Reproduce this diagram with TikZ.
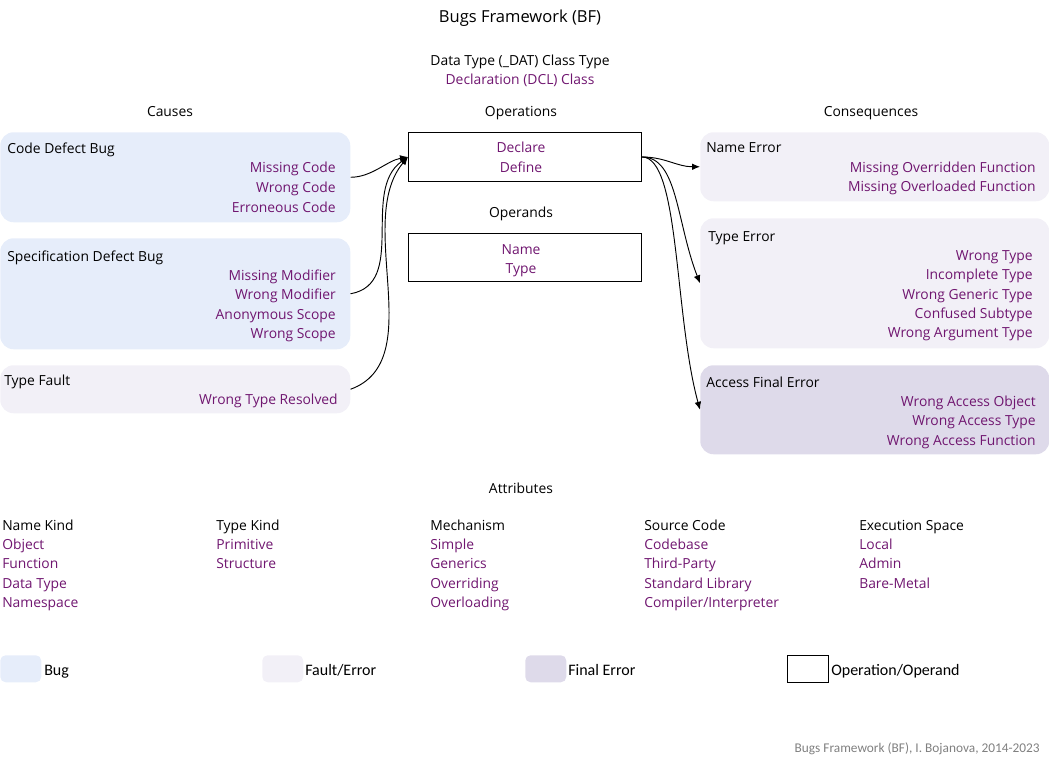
\documentclass[tikz,border=0pt]{standalone}
\usepackage{fontspec}
\setmainfont{Open Sans}
\newfontfamily\legfont{Carlito}
\usetikzlibrary{arrows.meta}
\definecolor{bugc}{HTML}{E6EDFA}
\definecolor{faultc}{HTML}{F2F0F7}
\definecolor{finalc}{HTML}{DEDAEA}
\definecolor{purp}{HTML}{701670}
\definecolor{footc}{HTML}{808080}
\begin{document}
\begin{tikzpicture}[x=0.75pt,y=-0.75pt, font=\fontsize{10.4}{12}\selectfont,
 t/.style={inner sep=0, text height=7.5pt, text depth=2.5pt, yshift=-2pt},
 it/.style={t, text=purp, anchor=east},
 pt/.style={t, text=purp},
 hd/.style={t, anchor=west},
 pw/.style={t, text=purp, anchor=west},
 box/.style={anchor=north west, inner sep=0, rounded corners=10pt},
 bugb/.style={box, fill=bugc},
 faultb/.style={box, fill=faultc},
 finalb/.style={box, fill=finalc},
 opb/.style={anchor=north west, inner sep=0, draw=black, line width=0.7pt},
 lgb/.style={anchor=north west, inner sep=0, rounded corners=4pt, minimum width=41*0.75pt, minimum height=27*0.75pt},
 lgt/.style={inner sep=0, anchor=west, text height=8pt, text depth=2.5pt, yshift=-1.5pt, font=\legfont\fontsize{12}{14}\selectfont},
 arr/.style={-{Latex[length=6pt,width=5pt]}, line width=0.7pt}
]
\useasboundingbox (0,0) rectangle (1049,763);

% titles
\node[t, font=\fontsize{12.4}{14}\selectfont] (title) at (520,17) {Bugs Framework (BF)};
\node[t] (dat) at (520,60) {Data Type (\_DAT) Class Type};
\node[pt] (dcl) at (520,79) {Declaration (DCL) Class};
\node[t] (causes) at (170,111) {Causes};
\node[t] (operations) at (521,111) {Operations};
\node[t] (conseq) at (871,111) {Consequences};

% causes
\node[bugb, minimum width=350*0.75pt, minimum height=90*0.75pt] (cdb) at (0,132) {};
\node[hd] (cdbT) at (7,148) {Code Defect Bug};
\node[it] (cdb1) at (336,167) {Missing Code};
\node[it] (cdb2) at (336,186) {Wrong Code};
\node[it] (cdb3) at (336,206) {Erroneous Code};

\node[bugb, minimum width=350*0.75pt, minimum height=111*0.75pt] (sdb) at (0,238) {};
\node[hd] (sdbT) at (7,255) {Specification Defect Bug};
\node[it] (sdb1) at (336,274) {Missing Modifier};
\node[it] (sdb2) at (336,293) {Wrong Modifier};
\node[it] (sdb3) at (336,313) {Anonymous Scope};
\node[it] (sdb4) at (336,332) {Wrong Scope};

\node[faultb, minimum width=350*0.75pt, minimum height=48*0.75pt] (tf) at (0,365) {};
\node[hd] (tfT) at (4,379) {Type Fault};
\node[it] (tf1) at (338,398) {Wrong Type Resolved};

% operations / operands
\node[opb, minimum width=233*0.75pt, minimum height=49*0.75pt] (ops) at (408,132) {};
\node[pt] (ops1) at (521,147) {Declare};
\node[pt] (ops2) at (521,166) {Define};
\node[t] (operands) at (521,211) {Operands};
\node[opb, minimum width=233*0.75pt, minimum height=48*0.75pt] (opd) at (408,233) {};
\node[pt] (opd1) at (521,248) {Name};
\node[pt] (opd2) at (521,267) {Type};

% consequences
\node[faultb, minimum width=349*0.75pt, minimum height=69*0.75pt] (ne) at (700,132) {};
\node[hd] (neT) at (706,147) {Name Error};
\node[it] (ne1) at (1036,166) {Missing Overridden Function};
\node[it] (ne2) at (1036,185) {Missing Overloaded Function};

\node[faultb, minimum width=349*0.75pt, minimum height=130*0.75pt] (te) at (700,218) {};
\node[hd] (teT) at (708,235) {Type Error};
\node[it] (te1) at (1033,254) {Wrong Type};
\node[it] (te2) at (1033,273) {Incomplete Type};
\node[it] (te3) at (1033,293) {Wrong Generic Type};
\node[it] (te4) at (1033,312) {Confused Subtype};
\node[it] (te5) at (1033,331) {Wrong Argument Type};

\node[finalb, minimum width=349*0.75pt, minimum height=89*0.75pt] (afe) at (700,365) {};
\node[hd] (afeT) at (706,381) {Access Final Error};
\node[it] (afe1) at (1036,400) {Wrong Access Object};
\node[it] (afe2) at (1036,419) {Wrong Access Type};
\node[it] (afe3) at (1036,439) {Wrong Access Function};

% connectors
\draw[arr] (cdb.east) to[out=0,in=190,looseness=0.9] (ops.west);
\draw[arr] (sdb.east) to[out=10,in=215,looseness=1] (ops.west);
\draw[arr] (tf.east) to[out=20,in=230,looseness=0.9] (ops.west);
\draw[arr] (ops.east) to[out=0,in=180] (ne.west);
\draw[arr] (ops.east) .. controls +(36,0) and +(-24,-62) .. (te.west);
\draw[arr] (ops.east) .. controls +(38,0) and +(-26,-95) .. (afe.west);

% attributes
\node[t] (attr) at (521,487) {Attributes};
\node[hd] (nk) at (2,524) {Name Kind};
\node[pw] (nk1) at (2,543) {Object};
\node[pw] (nk2) at (2,562) {Function};
\node[pw] (nk3) at (2,582) {Data Type};
\node[pw] (nk4) at (2,601) {Namespace};
\node[hd] (tk) at (216,524) {Type Kind};
\node[pw] (tk1) at (216,543) {Primitive};
\node[pw] (tk2) at (216,562) {Structure};
\node[hd] (me) at (430,524) {Mechanism};
\node[pw] (me1) at (430,543) {Simple};
\node[pw] (me2) at (430,562) {Generics};
\node[pw] (me3) at (430,582) {Overriding};
\node[pw] (me4) at (430,601) {Overloading};
\node[hd] (sc) at (644,524) {Source Code};
\node[pw] (sc1) at (644,543) {Codebase};
\node[pw] (sc2) at (644,562) {Third-Party};
\node[pw] (sc3) at (644,582) {Standard Library};
\node[pw] (sc4) at (644,601) {Compiler/Interpreter};
\node[hd] (es) at (859,524) {Execution Space};
\node[pw] (es1) at (859,543) {Local};
\node[pw] (es2) at (859,562) {Admin};
\node[pw] (es3) at (859,582) {Bare-Metal};

% legend
\node[lgb, fill=bugc] (lg1) at (0,655) {};
\node[lgt] (lg1t) at (44,670) {Bug};
\node[lgb, fill=faultc] (lg2) at (262,655) {};
\node[lgt] (lg2t) at (305,670) {Fault/Error};
\node[lgb, fill=finalc] (lg3) at (525,655) {};
\node[lgt] (lg3t) at (568,670) {Final Error};
\node[lgb, rounded corners=0pt, draw=black, line width=0.7pt] (lg4) at (787,655) {};
\node[lgt] (lg4t) at (831,670) {Operation/Operand};

% footer
\node[inner sep=0, anchor=east, text=footc, font=\legfont\fontsize{10}{12}\selectfont] (foot) at (1040,749) {Bugs Framework (BF), I. Bojanova, 2014-2023};
\end{tikzpicture}
\end{document}
